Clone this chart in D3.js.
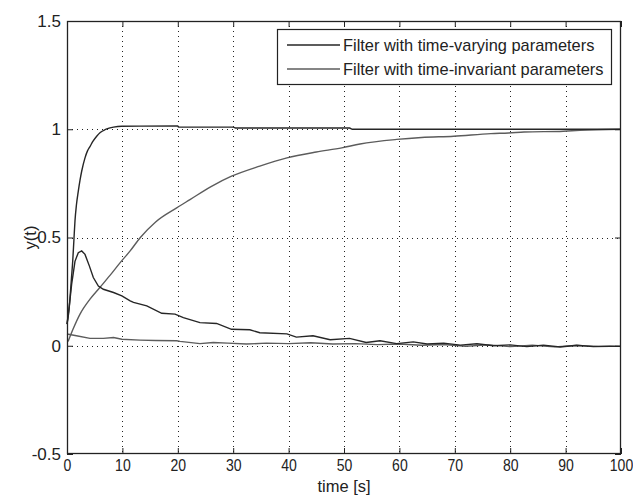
<!DOCTYPE html>
<html>
<head>
<meta charset="utf-8">
<script src="https://cdn.jsdelivr.net/npm/d3@7"></script>
<style>
  html, body { margin: 0; padding: 0; background: #fff; }
  svg { display: block; font-family: "Liberation Sans", Arial, sans-serif; }
</style>
</head>
<body>
<svg id="chart" width="633" height="497"></svg>
<script>
// ---- data ----
const xTicks = [0, 10, 20, 30, 40, 50, 60, 70, 80, 90, 100];
const yTicks = [-0.5, 0, 0.5, 1, 1.5];
const yTickLabels = ["-0.5", "0", "0.5", "1", "1.5"];
const seriesNames = ["Filter with time-varying parameters", "Filter with time-invariant parameters"];

// time-varying filter: output
const varyingOutT = [0, 0.3, 0.54, 0.8, 1.03, 1.25, 1.44, 1.7, 2.04, 2.35, 2.65, 3.25, 3.7, 4.15, 4.7, 5.36, 6.0, 6.86, 7.6, 8.4, 9.9, 20, 20.1, 30, 30.5, 51, 51.5, 100];
const varyingOutY = [0.1, 0.15, 0.22, 0.31, 0.39, 0.49, 0.576, 0.65, 0.714, 0.765, 0.806, 0.868, 0.9, 0.92, 0.945, 0.968, 0.985, 0.998, 1.005, 1.01, 1.014, 1.015, 1.01, 1.01, 1.006, 1.006, 1.0, 1.0];

// time-varying filter: error / peak curve
const varyingErrT = [0, 0.4, 0.84, 1.1, 1.44, 2.04, 2.65, 3.25, 4.03, 4.75, 5.66, 6.56, 8.4, 9.9, 11.4, 12, 14.4, 17.1, 19.5, 21, 24, 27, 29.7, 33, 34.8, 39.7, 41.4, 44.4, 47.5, 51, 54, 56.5, 59.5, 62.5, 65, 68, 71, 74, 77, 80, 83, 86, 89, 92, 95, 98, 100];
const varyingErrY = [0.1, 0.18, 0.284, 0.33, 0.39, 0.43, 0.438, 0.422, 0.369, 0.315, 0.276, 0.261, 0.246, 0.23, 0.207, 0.2, 0.184, 0.15, 0.146, 0.13, 0.107, 0.103, 0.076, 0.074, 0.06, 0.055, 0.04, 0.046, 0.028, 0.034, 0.015, 0.023, 0.01, 0.018, 0.008, 0.012, 0.003, 0.009, 0.0, 0.004, -0.004, 0.003, -0.006, 0.002, -0.004, -0.002, -0.003];

// time-invariant filter: output
const invariantOutT = [0.2, 1.1, 2.35, 4.15, 5.96, 7.76, 9.6, 11.4, 13.2, 16, 19.8, 22.2, 26, 29.7, 34.8, 39.7, 45, 49.6, 52.9, 59.5, 64, 69.8, 76.5, 79.7, 82.5, 89.6, 92.6, 100];
const invariantOutY = [0.02, 0.077, 0.146, 0.215, 0.27, 0.325, 0.384, 0.438, 0.499, 0.572, 0.637, 0.675, 0.735, 0.783, 0.83, 0.868, 0.895, 0.914, 0.932, 0.953, 0.962, 0.968, 0.98, 0.983, 0.987, 0.991, 0.995, 1.0];

// time-invariant filter: error curve
const invariantErrT = [0, 1.7, 4.15, 6.56, 8.4, 9.9, 13.2, 16, 19.8, 20.4, 24, 26.4, 29, 32.4, 36, 40, 44, 48, 52, 56, 60, 64, 68, 72, 76, 80, 84, 88, 92, 96, 100];
const invariantErrY = [0.054, 0.046, 0.034, 0.034, 0.038, 0.03, 0.026, 0.024, 0.023, 0.02, 0.01, 0.015, 0.012, 0.008, 0.012, 0.01, 0.014, 0.008, 0.01, 0.005, 0.008, 0.002, 0.006, -0.002, 0.004, -0.004, 0.002, -0.005, 0.001, -0.003, -0.003];

const seriesColors = ["#262626", "#5c5c5c"];

// ---- layout ----
const m = { left: 67, right: 621, top: 21, bottom: 454 };
const svg = d3.select("#chart");
const x = d3.scaleLinear().domain([0, 100]).range([m.left, m.right]);
const y = d3.scaleLinear().domain([-0.5, 1.5]).range([m.bottom, m.top]);

svg.append("rect").attr("x", m.left).attr("y", m.top)
  .attr("width", m.right - m.left).attr("height", m.bottom - m.top).attr("fill", "#fff");

// grid
const grid = svg.append("g").attr("stroke", "#222").attr("stroke-width", 1).attr("stroke-dasharray", "1,4");
grid.selectAll("line.gx").data(xTicks.slice(1, -1)).join("line")
  .attr("x1", d => Math.round(x(d)) + 0.5).attr("x2", d => Math.round(x(d)) + 0.5)
  .attr("y1", m.top).attr("y2", m.bottom);
grid.selectAll("line.gy").data(yTicks.slice(1, -1)).join("line")
  .attr("y1", d => Math.round(y(d)) + 0.5).attr("y2", d => Math.round(y(d)) + 0.5)
  .attr("x1", m.left).attr("x2", m.right);

// lines
const smooth = d3.line().curve(d3.curveMonotoneX).x(d => x(d[0])).y(d => y(d[1]));
const straight = d3.line().x(d => x(d[0])).y(d => y(d[1]));
const zip = (a, b) => a.map((t, i) => [t, b[i]]);
const curves = [
  { pts: zip(invariantOutT, invariantOutY), c: seriesColors[1], gen: smooth },
  { pts: zip(invariantErrT, invariantErrY), c: seriesColors[1], gen: straight },
  { pts: zip(varyingErrT, varyingErrY), c: seriesColors[0], gen: straight },
  { pts: zip(varyingOutT, varyingOutY), c: seriesColors[0], gen: smooth }
];
svg.append("g").selectAll("path").data(curves).join("path")
  .attr("d", d => d.gen(d.pts)).attr("fill", "none")
  .attr("stroke", d => d.c).attr("stroke-width", 1.4);

// axes
const tickFont = (size) => g => g.selectAll("text").attr("font-size", size).attr("fill", "#222")
  .attr("font-family", "'Liberation Sans', Arial, sans-serif");
const styleAxis = g => { g.select(".domain").remove(); g.selectAll("line").attr("stroke", "#222"); };

svg.append("g").attr("transform", `translate(0,${m.bottom})`)
  .call(d3.axisBottom(x).tickValues(xTicks).tickSize(-6).tickPadding(5).tickFormat(d3.format("d")))
  .call(styleAxis).call(tickFont(16.5))
  .call(g => g.selectAll("text").attr("transform", "scale(0.85,1)"));
svg.append("g").attr("transform", `translate(0,${m.top})`)
  .call(d3.axisTop(x).tickValues(xTicks).tickSize(-6).tickFormat(""))
  .call(styleAxis);
svg.append("g").attr("transform", `translate(${m.left},0)`)
  .call(d3.axisLeft(y).tickValues(yTicks).tickSize(-6).tickPadding(6).tickFormat((d, i) => yTickLabels[i]))
  .call(styleAxis).call(tickFont(17));
svg.append("g").attr("transform", `translate(${m.right},0)`)
  .call(d3.axisRight(y).tickValues(yTicks).tickSize(-6).tickFormat(""))
  .call(styleAxis);

// frame
svg.append("rect").attr("x", m.left + 0.5).attr("y", m.top + 0.5)
  .attr("width", m.right - m.left - 1).attr("height", m.bottom - m.top - 1)
  .attr("fill", "none").attr("stroke", "#222").attr("stroke-width", 1.3);

// axis titles
svg.append("text").attr("x", (m.left + m.right) / 2).attr("y", 492)
  .attr("text-anchor", "middle").attr("font-size", 16.5).attr("fill", "#222").text("time [s]");
svg.append("text").attr("transform", `translate(36,${(m.top + m.bottom) / 2}) rotate(-90)`)
  .attr("text-anchor", "middle").attr("font-size", 16.5).attr("fill", "#222").text("y(t)");

// legend
const lg = svg.append("g");
lg.append("rect").attr("x", 277.5).attr("y", 29.5).attr("width", 334).attr("height", 55)
  .attr("fill", "#fff").attr("stroke", "#222").attr("stroke-width", 1.2);
const rows = lg.selectAll("g.row").data(seriesNames).join("g")
  .attr("transform", (d, i) => `translate(0,${45 + i * 24})`);
rows.append("line").attr("x1", 287).attr("x2", 340).attr("y1", 0).attr("y2", 0)
  .attr("stroke", (d, i) => seriesColors[i]).attr("stroke-width", 1.4);
rows.append("text").attr("x", 343).attr("y", 0).attr("dy", "0.35em")
  .attr("font-size", 16.4).attr("fill", "#222").text(d => d);
</script>
</body>
</html>
